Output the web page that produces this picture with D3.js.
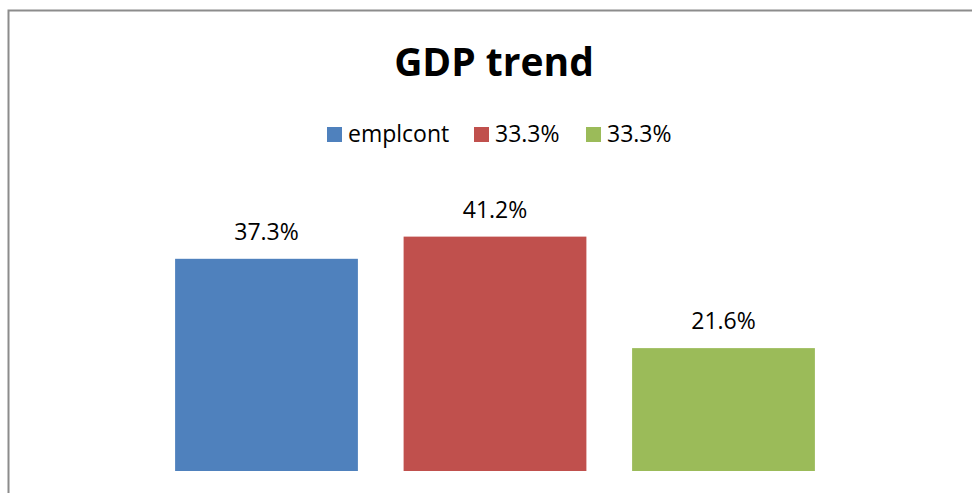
<!DOCTYPE html>
<html>
<head>
<meta charset="utf-8">
<script src="https://cdn.jsdelivr.net/npm/d3@7"></script>
<style>
  html, body { margin: 0; padding: 0; background: #fff; }
  svg { display: block; }
</style>
</head>
<body>
<svg id="chart" width="972" height="493"></svg>
<script>
// Chart content
const title = "GDP trend";
const seriesNames = ["emplcont", "33.3%", "33.3%"];
const values = [37.3, 41.2, 21.6];
const valueLabels = ["37.3%", "41.2%", "21.6%"];
const colors = ["#4f81bd", "#c0504d", "#9bbb59"];

const svg = d3.select("#chart");
const font = "'Open Sans', 'DejaVu Sans', sans-serif";

// Chart frame (runs off the right and bottom edges)
svg.append("rect")
  .attr("x", 8.5).attr("y", 10.5)
  .attr("width", 1000).attr("height", 520)
  .attr("fill", "#fff")
  .attr("stroke", "#8c8c8c")
  .attr("stroke-width", 2);

// Title
svg.append("text")
  .attr("x", 494).attr("y", 76)
  .attr("text-anchor", "middle")
  .attr("font-family", font)
  .attr("font-weight", "bold")
  .attr("font-size", 39)
  .attr("fill", "#000")
  .text(title);

// Scales
const x = d3.scaleBand()
  .domain(d3.range(values.length))
  .range([152.25, 837.75])
  .paddingInner(0.2)
  .paddingOuter(0.1);

const y = d3.scaleLinear()
  .domain([0, 45])
  .range([471, 215]);

// Bars
svg.append("g").selectAll("rect")
  .data(values)
  .join("rect")
  .attr("x", (d, i) => x(i))
  .attr("y", d => y(d))
  .attr("width", x.bandwidth())
  .attr("height", d => y(0) - y(d))
  .attr("fill", (d, i) => colors[i]);

// Value labels
svg.append("g").selectAll("text")
  .data(values)
  .join("text")
  .attr("x", (d, i) => x(i) + x.bandwidth() / 2)
  .attr("y", d => y(d) - 19)
  .attr("text-anchor", "middle")
  .attr("font-family", font)
  .attr("font-size", 23)
  .attr("fill", "#000")
  .text((d, i) => valueLabels[i]);

// Legend
const legendX = [327, 474, 586];
const legend = svg.append("g").selectAll("g")
  .data(seriesNames)
  .join("g")
  .attr("transform", (d, i) => `translate(${legendX[i]},127)`);

legend.append("rect")
  .attr("width", 15).attr("height", 15)
  .attr("fill", (d, i) => colors[i]);

legend.append("text")
  .attr("x", 21).attr("y", 15)
  .attr("font-family", font)
  .attr("font-size", 23)
  .attr("fill", "#000")
  .text(d => d);
</script>
</body>
</html>
